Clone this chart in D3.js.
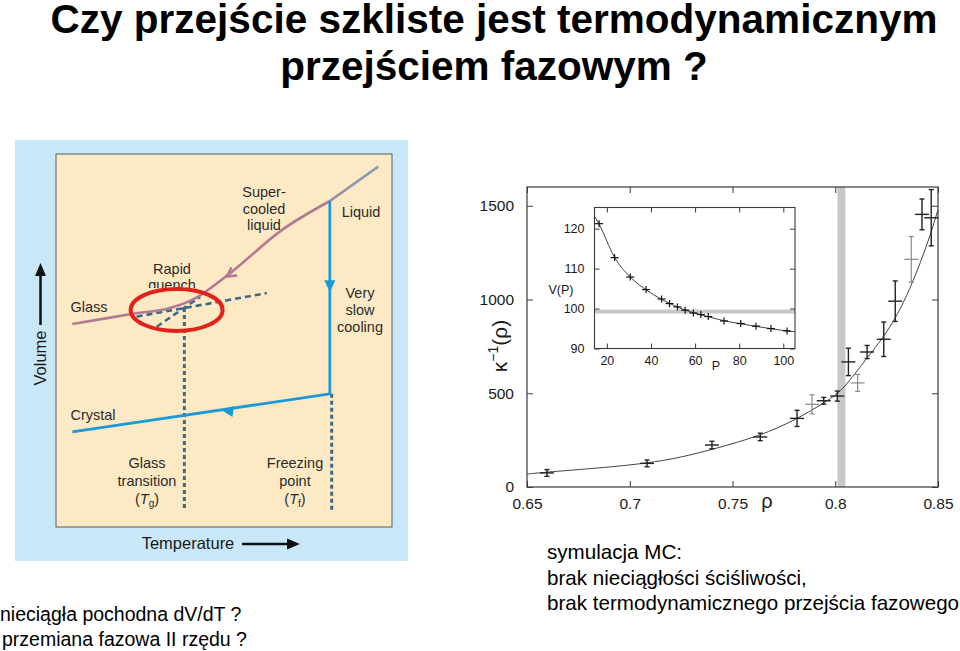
<!DOCTYPE html>
<html>
<head>
<meta charset="utf-8">
<script src="https://cdn.jsdelivr.net/npm/d3@7"></script>
<style>
  body { margin: 0; background: #fff; }
  svg { display: block; font-family: "Liberation Sans", Arial, sans-serif; }
</style>
</head>
<body>
<div id="slide"></div>
<script>
// ---- data ----
// main chart: inverse compressibility vs density (two data sets + fit)
var rhoTicks = [0.65, 0.7, 0.75, 0.8, 0.85];
var kappaTicks = [0, 500, 1000, 1500];
var darkRho = [0.6597, 0.7084, 0.7400, 0.7635, 0.7814, 0.7944, 0.8010, 0.8064, 0.8155, 0.8236, 0.8292, 0.8422, 0.8467];
var darkKappa = [75, 126, 224, 267, 366, 460, 485, 667, 720, 788, 991, 1454, 1436];
var darkErr = [18, 18, 20, 20, 43, 18, 27, 73, 35, 92, 108, 82, 150];
var lightRho = [0.7887, 0.8109, 0.8370];
var lightKappa = [441, 555, 1214];
var lightErr = [51, 45, 122];
var fitRho = [0.65, 0.66, 0.685, 0.7084, 0.725, 0.74, 0.7635, 0.7814, 0.7944, 0.8015, 0.8059, 0.8153, 0.8235, 0.830, 0.8365, 0.8414, 0.8462, 0.85];
var fitKappa = [69, 80, 101, 126, 158, 200, 272, 362, 448, 500, 552, 685, 800, 912, 1060, 1195, 1340, 1480];
var bandRho = 0.803;

// inset: V(P)
var pTicks = [20, 40, 60, 80, 100];
var vTicks = [90, 100, 110, 120];
var insetP = [16.5, 23.5, 30.6, 37.8, 44.8, 48.4, 52.0, 55.5, 59.2, 62.6, 66.0, 73.1, 80.7, 87.6, 94.4, 101.7];
var insetV = [121.25, 112.75, 107.9, 104.75, 102.4, 101.25, 100.4, 99.6, 98.9, 98.5, 98.0, 96.9, 96.25, 95.6, 95.0, 94.4];
var insetFitP = [14.4, 16.5, 23.5, 30.6, 37.8, 44.8, 52.0, 59.2, 66.0, 73.1, 80.7, 87.6, 94.4, 101.7, 105.3];
var insetFitV = [123.1, 121.1, 112.8, 107.9, 104.7, 102.3, 100.4, 98.95, 97.95, 96.95, 96.2, 95.55, 94.95, 94.4, 94.2];
var bandV = 99.25;

// schematic: volume vs temperature (arbitrary units 0..100)
var glassCurve = [[4.85, 54.4], [22.5, 57.1], [33.4, 58.6], [41.4, 61.3], [52.3, 68.4], [67.2, 79.6], [81.5, 87.4]];
var liquidLine = [[81.5, 87.4], [95.9, 96.6]];
var slowCooling = [[81.5, 87.4], [81.5, 35.7]];
var crystalLine = [[81.5, 35.7], [4.85, 25.5]];
var glassExt = [[24, 56.4], [62.7, 62.7]];
var liquidExt = [[30, 53.7], [42.9, 61.7]];
var tgLine = [[38.2, 58.7], [38.2, 5.1]];
var tfLine = [[82.05, 35.7], [82.05, 4.1]];

// ---- drawing ----
var W = 960, H = 651;
var svg = d3.select("#slide").append("svg").attr("width", W).attr("height", H);

// title
var title = svg.append("g").attr("font-weight", "bold").attr("font-size", 40.5).attr("text-anchor", "middle").attr("fill", "#000");
title.append("text").attr("x", 494).attr("y", 33).text("Czy przejście szkliste jest termodynamicznym");
title.append("text").attr("x", 494).attr("y", 80).text("przejściem fazowym ?");

// captions
var cap = svg.append("g").attr("fill", "#000");
cap.append("text").attr("x", 0).attr("y", 621).attr("font-size", 19.5).text("nieciągła pochodna dV/dT ?");
cap.append("text").attr("x", 2).attr("y", 646).attr("font-size", 19.5).text("przemiana fazowa II rzędu ?");
cap.append("text").attr("x", 547).attr("y", 559).attr("font-size", 20.6).text("symulacja MC:");
cap.append("text").attr("x", 547).attr("y", 584.5).attr("font-size", 20.6).text("brak nieciągłości ściśliwości,");
cap.append("text").attr("x", 547).attr("y", 610).attr("font-size", 20.6).text("brak termodynamicznego przejścia fazowego");

// ---------- left schematic ----------
var L = svg.append("g");
L.append("rect").attr("x", 15).attr("y", 140).attr("width", 393).attr("height", 421).attr("fill", "#c8e7f9");
L.append("rect").attr("x", 56).attr("y", 154).attr("width", 336).attr("height", 373)
  .attr("fill", "#fdeac5").attr("stroke", "#5a5a5a").attr("stroke-width", 1);

var tx = d3.scaleLinear().domain([0, 100]).range([56, 392]);
var vy = d3.scaleLinear().domain([0, 100]).range([527, 154]);
var line = d3.line().x(d => tx(d[0])).y(d => vy(d[1]));
var smooth = d3.line().x(d => tx(d[0])).y(d => vy(d[1])).curve(d3.curveCatmullRom);

var pink = "#b27a92", blue = "#1b9ad8", dash = "#3b6a88";

// labels
var lab = L.append("g").attr("font-size", 14.5).attr("fill", "#2b2b2b").attr("text-anchor", "middle");
function lines(x, y, arr, dy) {
  arr.forEach((t, i) => lab.append("text").attr("x", x).attr("y", y + i * dy).text(t));
}
lines(264, 197, ["Super-", "cooled", "liquid"], 16.5);
lines(361, 217, ["Liquid"], 0);
lines(360, 298, ["Very", "slow", "cooling"], 17);
lines(93, 420, ["Crystal"], 0);
lines(89, 312, ["Glass"], 0);
lines(172, 274, ["Rapid"], 0);
// "quench" is partly hidden in the original
L.append("clipPath").attr("id", "qclip").append("rect").attr("x", 120).attr("y", 276).attr("width", 110).attr("height", 12);
lab.append("text").attr("x", 172).attr("y", 290).attr("clip-path", "url(#qclip)").text("quench");
lines(147, 468, ["Glass", "transition"], 18);
lines(295, 468, ["Freezing", "point"], 18);
var tg = lab.append("text").attr("x", 147).attr("y", 504);
tg.append("tspan").text("(");
tg.append("tspan").attr("font-style", "italic").text("T");
tg.append("tspan").attr("font-size", 10).attr("dy", 3).text("g");
tg.append("tspan").attr("dy", -3).text(")");
var tf = lab.append("text").attr("x", 295).attr("y", 504);
tf.append("tspan").text("(");
tf.append("tspan").attr("font-style", "italic").text("T");
tf.append("tspan").attr("font-size", 10).attr("dy", 3).text("f");
tf.append("tspan").attr("dy", -3).text(")");

// dashed guides
[tgLine, tfLine].forEach(seg => L.append("path").attr("d", line(seg)).attr("fill", "none")
  .attr("stroke", dash).attr("stroke-width", 3).attr("stroke-dasharray", "4,3"));
[glassExt, liquidExt].forEach(seg => L.append("path").attr("d", line(seg)).attr("fill", "none")
  .attr("stroke", dash).attr("stroke-width", 2.6).attr("stroke-dasharray", "6,4"));

// curves
L.append("path").attr("d", smooth(glassCurve)).attr("fill", "none").attr("stroke", pink).attr("stroke-width", 2.6);
var lg = L.append("defs").append("linearGradient").attr("id", "liqgrad")
  .attr("gradientUnits", "userSpaceOnUse")
  .attr("x1", tx(liquidLine[0][0])).attr("y1", vy(liquidLine[0][1]))
  .attr("x2", tx(liquidLine[1][0])).attr("y2", vy(liquidLine[1][1]));
lg.append("stop").attr("offset", 0).attr("stop-color", "#9c8aa0");
lg.append("stop").attr("offset", 1).attr("stop-color", "#7fa2b8");
L.append("path").attr("d", line(liquidLine)).attr("fill", "none").attr("stroke", "url(#liqgrad)").attr("stroke-width", 2.6);
L.append("path").attr("d", line(slowCooling)).attr("fill", "none").attr("stroke", blue).attr("stroke-width", 2.8);
L.append("path").attr("d", line(crystalLine)).attr("fill", "none").attr("stroke", blue).attr("stroke-width", 2.8);

// arrow heads (position in diagram units, direction angle in degrees)
function arrowHead(u, v, ang, color, open) {
  var g = L.append("g").attr("transform", `translate(${tx(u)},${vy(v)}) rotate(${ang})`);
  if (open) {
    g.append("path").attr("d", "M-8,-5 L1,0 L-8,5").attr("fill", "none").attr("stroke", color).attr("stroke-width", 2.4);
  } else {
    g.append("path").attr("d", "M-10,-5.5 L2,0 L-10,5.5 Z").attr("fill", color);
  }
}
arrowHead(51.1, 67.3, 145, pink, true);
arrowHead(81.5, 63.5, 90, blue, false);
arrowHead(49.8, 31.3, 187.5, blue, false);

// red ellipse
L.append("ellipse").attr("cx", tx(35.9)).attr("cy", vy(58.2)).attr("rx", 46).attr("ry", 21)
  .attr("fill", "none").attr("stroke", "#e3211b").attr("stroke-width", 4);

// axis arrows
L.append("text").attr("transform", "translate(46,358) rotate(-90)").attr("text-anchor", "middle")
  .attr("font-size", 16.5).attr("fill", "#1a1a1a").text("Volume");
L.append("line").attr("x1", 40.5).attr("y1", 325).attr("x2", 40.5).attr("y2", 272).attr("stroke", "#111").attr("stroke-width", 2.5);
L.append("path").attr("d", "M35,276 L40.5,263 L46,276 Z").attr("fill", "#111");
L.append("text").attr("x", 188).attr("y", 549).attr("text-anchor", "middle")
  .attr("font-size", 16.5).attr("fill", "#1a1a1a").text("Temperature");
L.append("line").attr("x1", 242).attr("y1", 544).attr("x2", 290).attr("y2", 544).attr("stroke", "#111").attr("stroke-width", 2.5);
L.append("path").attr("d", "M287,538.5 L300,544 L287,549.5 Z").attr("fill", "#111");

// ---------- right chart ----------
var R = svg.append("g");
var x = d3.scaleLinear().domain([0.65, 0.85]).range([527, 938]);
var y = d3.scaleLinear().domain([0, 1600]).range([487, 187]);
var frameCol = "#3a3a3a";

// gray band
R.append("rect").attr("x", x(bandRho) - 4).attr("y", y(1600)).attr("width", 8).attr("height", y(0) - y(1600)).attr("fill", "#c8c8c8");

// frame and inward ticks on all sides
R.append("rect").attr("x", x.range()[0]).attr("y", y.range()[1]).attr("width", x.range()[1] - x.range()[0])
  .attr("height", y.range()[0] - y.range()[1]).attr("fill", "none").attr("stroke", frameCol).attr("stroke-width", 1.2);
R.append("g").attr("transform", `translate(0,${y(0)})`)
  .call(d3.axisBottom(x).tickValues(rhoTicks).tickSize(-6).tickPadding(11).tickFormat(d3.format("")))
  .call(g => g.select(".domain").remove());
R.append("g").attr("transform", `translate(0,${y(1600)})`)
  .call(d3.axisTop(x).tickValues(rhoTicks).tickSize(-6).tickFormat(""))
  .call(g => g.select(".domain").remove());
R.append("g").attr("transform", `translate(${x(0.65)},0)`)
  .call(d3.axisLeft(y).tickValues(kappaTicks).tickSize(-6).tickPadding(13).tickFormat(d3.format("d")))
  .call(g => g.select(".domain").remove());
R.append("g").attr("transform", `translate(${x(0.85)},0)`)
  .call(d3.axisRight(y).tickValues(kappaTicks).tickSize(-6).tickFormat(""))
  .call(g => g.select(".domain").remove());
R.selectAll(".tick text").attr("font-size", 15.5).attr("fill", "#1a1a1a").attr("font-family", "'Liberation Sans', Arial, sans-serif");
R.selectAll(".tick line").attr("stroke", frameCol);

// axis labels
R.append("text").attr("x", 767).attr("y", 508).attr("text-anchor", "middle").attr("font-size", 20).attr("fill", "#1a1a1a").text("ρ");
var kl = R.append("text").attr("transform", "translate(507,346) rotate(-90)").attr("text-anchor", "middle")
  .attr("font-size", 21).attr("fill", "#1a1a1a");
kl.append("tspan").text("κ");
kl.append("tspan").attr("font-size", 14).attr("dy", -9).text("−1");
kl.append("tspan").attr("dy", 9).text("(ρ)");

// fit curve
R.append("path").datum(d3.zip(fitRho, fitKappa))
  .attr("d", d3.line().x(d => x(d[0])).y(d => y(d[1])).curve(d3.curveBasis))
  .attr("fill", "none").attr("stroke", "#444").attr("stroke-width", 1);

// error bars
function errorBars(rs, ks, es, color, sw) {
  var g = R.append("g").attr("stroke", color).attr("stroke-width", sw).attr("fill", "none");
  rs.forEach((r, i) => {
    var cx = x(r), cy = y(ks[i]), top = y(ks[i] + es[i]), bot = y(ks[i] - es[i]);
    g.append("line").attr("x1", cx).attr("x2", cx).attr("y1", top).attr("y2", bot);
    g.append("line").attr("x1", cx - 2.5).attr("x2", cx + 2.5).attr("y1", top).attr("y2", top);
    g.append("line").attr("x1", cx - 2.5).attr("x2", cx + 2.5).attr("y1", bot).attr("y2", bot);
    g.append("line").attr("x1", cx - 7).attr("x2", cx + 7).attr("y1", cy).attr("y2", cy);
  });
}
errorBars(lightRho, lightKappa, lightErr, "#8a8a8a", 1.2);
errorBars(darkRho, darkKappa, darkErr, "#222", 1.4);

// inset
var ix = d3.scaleLinear().domain([14.4, 105.3]).range([594.5, 795]);
var iy = d3.scaleLinear().domain([90, 125.3]).range([348.5, 207.5]);
var I = R.append("g");
I.append("rect").attr("x", 594.5).attr("y", 207.5).attr("width", 200.5).attr("height", 141).attr("fill", "#fff");
I.append("rect").attr("x", ix(14.4)).attr("y", iy(bandV) - 2).attr("width", ix(105.3) - ix(14.4)).attr("height", 4).attr("fill", "#c8c8c8");
I.append("rect").attr("x", 594.5).attr("y", 207.5).attr("width", 200.5).attr("height", 141)
  .attr("fill", "none").attr("stroke", frameCol).attr("stroke-width", 1.1);
I.append("g").attr("transform", `translate(0,${iy(90)})`)
  .call(d3.axisBottom(ix).tickValues(pTicks).tickSize(-5).tickPadding(8))
  .call(g => g.select(".domain").remove());
I.append("g").attr("transform", `translate(0,${iy(125.3)})`)
  .call(d3.axisTop(ix).tickValues(pTicks).tickSize(-5).tickFormat(""))
  .call(g => g.select(".domain").remove());
I.append("g").attr("transform", `translate(${ix(14.4)},0)`)
  .call(d3.axisLeft(iy).tickValues(vTicks).tickSize(-5).tickPadding(10))
  .call(g => g.select(".domain").remove());
I.append("g").attr("transform", `translate(${ix(105.3)},0)`)
  .call(d3.axisRight(iy).tickValues(vTicks).tickSize(-5).tickFormat(""))
  .call(g => g.select(".domain").remove());
I.selectAll(".tick text").attr("font-size", 12.5).attr("fill", "#1a1a1a").attr("font-family", "'Liberation Sans', Arial, sans-serif");
I.selectAll(".tick line").attr("stroke", frameCol);
I.append("text").attr("x", 561).attr("y", 294).attr("text-anchor", "middle").attr("font-size", 12.5).attr("fill", "#1a1a1a").text("V(P)");
I.append("text").attr("x", 716).attr("y", 370).attr("text-anchor", "middle").attr("font-size", 12.5).attr("fill", "#1a1a1a").text("P");

I.append("path").datum(d3.zip(insetFitP, insetFitV))
  .attr("d", d3.line().x(d => ix(d[0])).y(d => iy(d[1])).curve(d3.curveMonotoneX))
  .attr("fill", "none").attr("stroke", "#444").attr("stroke-width", 1);
var pts = I.append("g").attr("stroke", "#111").attr("stroke-width", 1.2);
insetP.forEach((p, i) => {
  var cx = ix(p), cy = iy(insetV[i]);
  pts.append("line").attr("x1", cx - 4).attr("x2", cx + 4).attr("y1", cy).attr("y2", cy);
  pts.append("line").attr("x1", cx).attr("x2", cx).attr("y1", cy - 3.5).attr("y2", cy + 3.5);
});
</script>
</body>
</html>
